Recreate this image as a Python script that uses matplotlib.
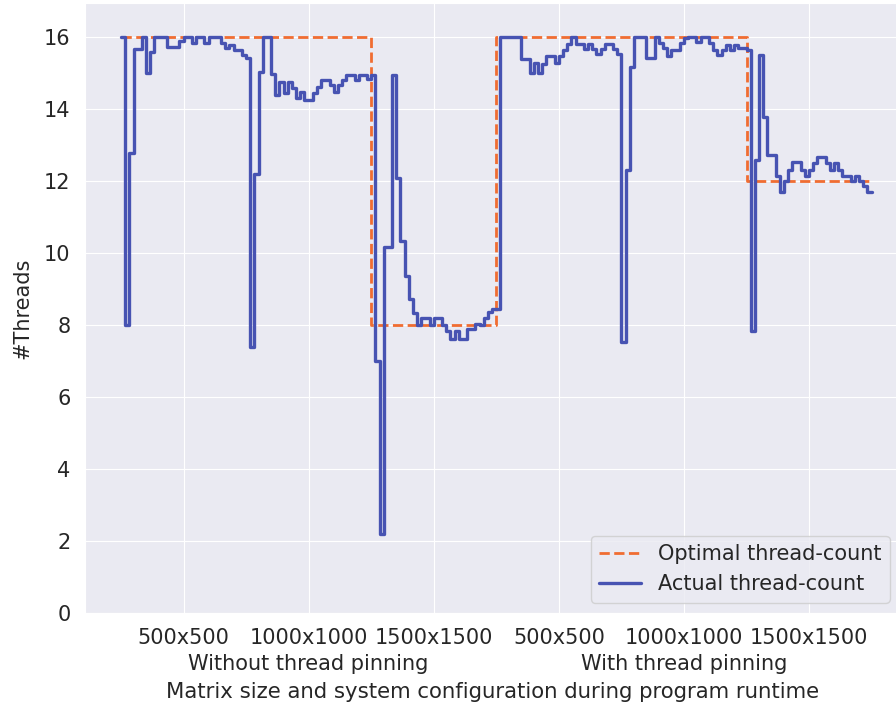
import numpy as np
import matplotlib
matplotlib.use("Agg")
import matplotlib.pyplot as plt
import seaborn as sns

# samples of the thread count, 30 samples per matrix-size run
actual = [
    # without pinning, 500x500
    16, 8.0, 12.79, 15.67, 15.67, 16, 15.0, 15.6, 16, 16,
    16, 15.74, 15.74, 15.74, 15.9, 16, 16, 15.83, 16, 16,
    15.83, 16, 16, 16, 15.83, 15.69, 15.78, 15.64, 15.64, 15.5,
    # without pinning, 1000x1000
    15.41, 7.38, 12.2, 15.04, 16, 16, 14.97, 14.39, 14.76, 14.44,
    14.76, 14.58, 14.3, 14.49, 14.26, 14.26, 14.44, 14.62, 14.81, 14.81,
    14.67, 14.49, 14.67, 14.81, 14.95, 14.95, 14.81, 14.95, 14.95, 14.84,
    # without pinning, 1500x1500
    14.95, 7.0, 2.19, 10.18, 10.18, 14.94, 12.08, 10.34, 9.36, 8.73,
    8.33, 7.99, 8.21, 8.21, 7.99, 8.21, 8.21, 7.99, 7.83, 7.62,
    7.83, 7.62, 7.62, 7.9, 7.9, 8.04, 8.0, 8.2, 8.35, 8.45,
    # with pinning, 500x500
    8.45, 16, 16, 16, 16, 16, 15.4, 15.4, 15.0, 15.28,
    15.0, 15.25, 15.49, 15.49, 15.27, 15.49, 15.65, 15.82, 16, 15.82,
    15.82, 15.66, 15.8, 15.66, 15.52, 15.66, 15.8, 15.8, 15.66, 15.52,
    # with pinning, 1000x1000
    7.52, 12.31, 15.18, 16, 16, 16, 15.42, 15.42, 16, 15.84,
    15.7, 15.47, 15.65, 15.65, 15.84, 15.97, 16, 16, 15.88, 16,
    16, 15.84, 15.65, 15.51, 15.65, 15.79, 15.65, 15.79, 15.7, 15.7,
    # with pinning, 1500x1500
    15.65, 7.83, 12.59, 15.5, 13.79, 12.73, 12.73, 12.13, 11.71, 12.0,
    12.31, 12.54, 12.54, 12.31, 12.13, 12.31, 12.5, 12.68, 12.68, 12.5,
    12.31, 12.5, 12.31, 12.13, 12.13, 12.0, 12.13, 12.0, 11.87, 11.71,
]
optimal = [16] * 60 + [8] * 30 + [16] * 60 + [12] * 30

tick_pos = [15, 45, 75, 105, 135, 165]
tick_labels = ["500x500", "1000x1000", "1500x1500",
               "500x500", "1000x1000", "1500x1500"]
group_pos = [45, 135]
group_labels = ["Without thread pinning", "With thread pinning"]

sns.set_style("darkgrid")
plt.rcParams['font.family'] = ['DejaVu Sans']
fs = 15

fig = plt.figure(figsize=(8.96, 7.08), dpi=100)
ax = fig.add_axes([85 / 896, 95 / 708, 815 / 896, 610 / 708])

x = np.arange(len(actual) + 1)
ax.plot(x, optimal + [optimal[-1]], drawstyle='steps-post', color='#f06d32',
        linestyle='--', linewidth=2, label='Optimal thread-count')
ax.plot(x, actual + [actual[-1]], drawstyle='steps-post', color='#4753b2',
        linewidth=2.4, label='Actual thread-count')

ax.set_xlim(-8.63, 186.8)
ax.set_ylim(0, 16.95)
ax.set_yticks(range(0, 17, 2))
ax.set_xticks(tick_pos)
ax.set_xticklabels(tick_labels)
ax.tick_params(axis='both', labelsize=fs, colors='.15')
ax.tick_params(axis='x', pad=7)
ax.tick_params(axis='y', pad=7)

# second row of x labels: the pinning configuration
for gx, gl in zip(group_pos, group_labels):
    ax.annotate(gl, xy=(gx, 0), xycoords=('data', 'axes fraction'),
                xytext=(0, -36.5), textcoords='offset points',
                ha='center', va='center', fontsize=fs, color='.15')

ax.set_xlabel("Matrix size and system configuration during program runtime",
              fontsize=15.3, color='.15')
ax.xaxis.set_label_coords(0.5, -79 / 610)
ax.xaxis.label.set_va('center')
ax.set_ylabel("#Threads", fontsize=fs, color='.15')
ax.yaxis.set_label_coords(-63 / 815, 0.5)
ax.yaxis.label.set_va('center')

ax.legend(loc='lower right', fontsize=fs)

plt.savefig('out.png', dpi=100)
